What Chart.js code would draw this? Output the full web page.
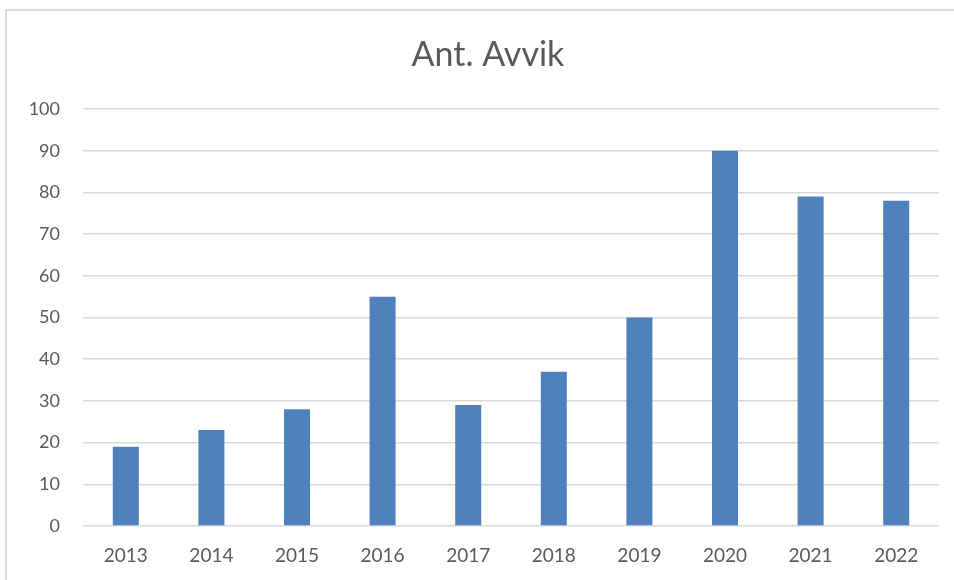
<!DOCTYPE html>
<html>
<head>
<meta charset="utf-8">
<script src="https://cdn.jsdelivr.net/npm/chart.js@4"></script>
<style>
  html, body { margin: 0; padding: 0; background: #fff; overflow: hidden; }
  #wrap { position: absolute; left: 0; top: 0; width: 954px; height: 580px; }
  #frame { position: absolute; left: 5px; top: 9px; width: 980px; height: 600px; border: 2px solid #dcdcdc; box-sizing: border-box; }
</style>
</head>
<body>
<div id="frame"></div>
<div id="wrap"><canvas id="c"></canvas></div>
<script>
const categories = ["2013", "2014", "2015", "2016", "2017", "2018", "2019", "2020", "2021", "2022"];
const avvik = [19, 23, 28, 55, 29, 37, 50, 90, 79, 78];
const titleText = "Ant. Avvik";
const yMin = 0, yMax = 100, yStep = 10;

const shiftTitle = {
  id: 'shiftTitle',
  afterLayout(chart) {
    if (chart.titleBlock) { chart.titleBlock.left += 37; }
  }
};

new Chart(document.getElementById('c'), {
  type: 'bar',
  data: {
    labels: categories,
    datasets: [{
      label: titleText,
      data: avvik,
      backgroundColor: '#4f81bd',
      borderWidth: 0,
      categoryPercentage: 1,
      barPercentage: 0.304
    }]
  },
  plugins: [shiftTitle],
  options: {
    responsive: true,
    maintainAspectRatio: false,
    animation: false,
    layout: { padding: { left: 0, right: 15, top: 0, bottom: 0 } },
    plugins: {
      legend: { display: false },
      tooltip: { enabled: false },
      title: {
        display: true,
        text: titleText,
        color: '#595959',
        font: { family: 'Lato', size: 34, weight: 'normal' },
        padding: { top: 34.5, bottom: 33.7 }
      }
    },
    scales: {
      x: {
        grid: { display: false, drawTicks: false },
        border: { display: false },
        ticks: {
          color: '#595959',
          font: { family: 'Lato', size: 19 },
          padding: 18,
          maxRotation: 0
        },
        afterFit: (s) => { s.height = 54; }
      },
      y: {
        min: yMin, max: yMax,
        grid: { color: '#d9d9d9', lineWidth: 1.5, drawTicks: false },
        border: { display: false },
        ticks: {
          stepSize: yStep,
          color: '#595959',
          font: { family: 'Lato', size: 18 },
          padding: 23
        },
        afterFit: (s) => { s.width = 83; }
      }
    }
  }
});
</script>
</body>
</html>
